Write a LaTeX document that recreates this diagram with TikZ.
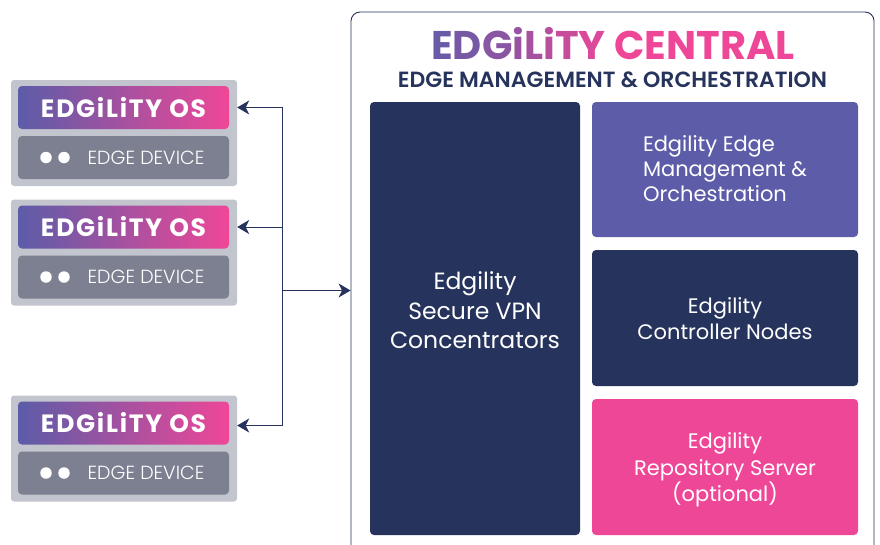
\documentclass[tikz,border=0pt]{standalone}
\usepackage{fontspec}
\setmainfont{Poppins}
\newfontfamily\lightfont{Poppins Light}
\newfontfamily\semifont{Poppins SemiBold}
\usetikzlibrary{arrows.meta}
\definecolor{navy}{HTML}{26335C}
\definecolor{violet}{HTML}{5C5CA8}
\definecolor{hotpink}{HTML}{EF4798}
\definecolor{slategray}{HTML}{7C8090}
\definecolor{cardgray}{HTML}{C2C5CE}
\newcommand{\fsize}[2]{\fontsize{#1}{#2}\selectfont}
\newcommand{\logoname}{%
  \textcolor{violet!90!hotpink}{E}\textcolor{violet!82!hotpink}{D}%
  \textcolor{violet!70!hotpink}{G}\textcolor{violet!60!hotpink}{i}%
  \textcolor{violet!50!hotpink}{L}\textcolor{violet!38!hotpink}{i}%
  \textcolor{violet!26!hotpink}{T}\textcolor{violet!14!hotpink}{Y}}
\tikzset{
  card/.style={fill=cardgray, rounded corners=3pt, minimum width=226pt, minimum height=106pt, inner sep=0pt},
  osbox/.style={left color=violet, right color=hotpink, rounded corners=4pt, minimum width=211pt, minimum height=43pt, inner sep=0pt, text=white, font=\fsize{25}{25}\bfseries\addfontfeature{LetterSpace=7}},
  devbox/.style={fill=slategray, rounded corners=4pt, minimum width=211pt, minimum height=43pt, inner sep=0pt},
  devtext/.style={text=white, inner sep=0pt, font=\fsize{19}{19}\lightfont},
  dot/.style={circle, fill=white, minimum size=11.5pt, inner sep=0pt},
  panel/.style={rounded corners=4pt, text=white, inner sep=0pt, align=center},
  wire/.style={draw=navy, line width=0.9pt},
  tip/.style={-{Stealth[length=12pt, width=14pt, inset=3.5pt]}},
}
\begin{document}
\begin{tikzpicture}[x=1pt, y=-1pt]
  \useasboundingbox (0,0) rectangle (880,544);

  % Central frame
  \node[draw=navy, line width=0.9pt, rounded corners=9pt, minimum width=523pt, minimum height=560pt, inner sep=0pt] (central) at (612.5,292) {};
  \node[inner sep=0pt, font=\fsize{40}{40}\bfseries] (title) at (613,44) {\logoname\ \textcolor{hotpink}{CENTRAL}};
  \node[inner sep=0pt, text=navy, font=\fsize{22}{22}\semifont] (subtitle) at (612.5,80) {EDGE MANAGEMENT \& ORCHESTRATION};

  % Panels
  \node[panel, fill=navy, minimum width=210pt, minimum height=433pt, font=\fsize{23.5}{29.5}, text depth=16pt] (vpn) at (475,318.5) {Edgility\\Secure VPN\\Concentrators};
  \node[panel, fill=violet, minimum width=266pt, minimum height=135pt, font=\fsize{21}{25}, align=left, text depth=1pt] (mgmt) at (725,169.5) {Edgility Edge\\Management \&\\Orchestration};
  \node[panel, fill=navy, minimum width=266pt, minimum height=136pt, font=\fsize{21}{26.5}, text height=44pt] (ctrl) at (725,318) {Edgility\\Controller Nodes};
  \node[panel, fill=hotpink, minimum width=266pt, minimum height=136pt, font=\fsize{21}{26.5}, text height=74.5pt] (repo) at (725,467) {Edgility\\Repository Server\\(optional)};

  % Edge devices
  \foreach \i/\dy in {1/0, 2/119.5, 3/315.5} {
    \node[card] (card\i) at (124,133+\dy) {};
    \node[osbox] (os\i) at (123.5,107.5+\dy) {EDGiLiTY OS};
    \node[devbox] (dev\i) at (123.5,157.5+\dy) {};
    \node[dot] (dota\i) at (46,157.5+\dy) {};
    \node[dot] (dotb\i) at (64,157.5+\dy) {};
    \node[devtext] (devtext\i) at (146,157.5+\dy) {EDGE DEVICE};
  }

  % Connections
  \coordinate (bus) at (282,290.5);
  \draw[wire, tip] (bus) -- (central.west |- bus);
  \foreach \i/\sh in {1/0, 2/0, 3/-2.5} {
    \draw[wire, tip] (bus) |- ([yshift=\sh pt]card\i.east |- os\i);
  }
\end{tikzpicture}
\end{document}
